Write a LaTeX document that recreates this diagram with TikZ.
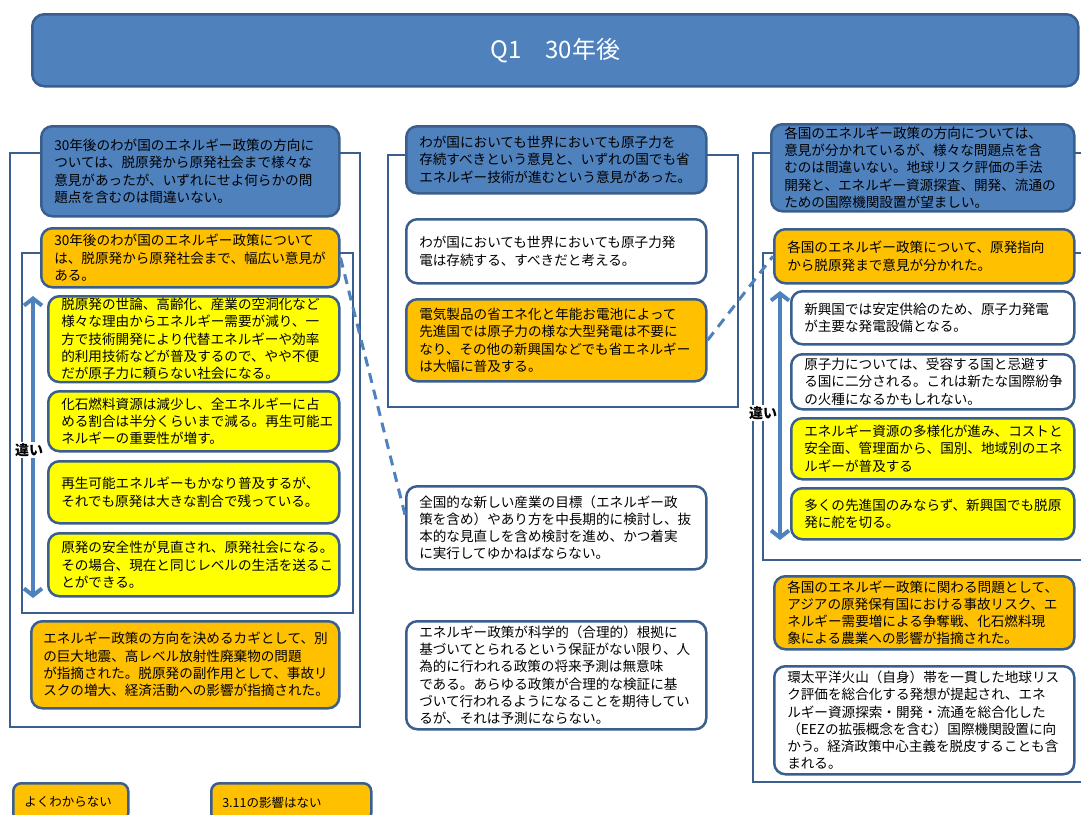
\documentclass[tikz,border=0pt]{standalone}
\usepackage{fontspec}
\setmainfont{Noto Sans CJK JP}
\usetikzlibrary{arrows.meta}
\definecolor{cblue}{HTML}{4F81BD}
\definecolor{cborder}{HTML}{3A5F8E}
\definecolor{corange}{HTML}{FFC000}
\definecolor{cyellow}{HTML}{FFFF00}
\begin{document}
\begin{tikzpicture}[x=1pt,y=-1pt,
  bx/.style={draw=cborder, line width=2.5pt, rounded corners=11pt, align=left,
    inner xsep=13pt, inner ysep=2pt, anchor=north west,
    font=\fontsize{13.6}{17.3}\selectfont, text=black},
  frame/.style={draw=cborder, line width=2.5pt},
  dashc/.style={draw=cblue, line width=3pt, dash pattern=on 10pt off 7pt},
  darrow/.style={draw=cblue, line width=4pt,
    {Straight Barb[length=7pt,width=18pt]}-{Straight Barb[length=7pt,width=18pt]}},
  lbl/.style={font=\fontsize{14}{16}\selectfont\bfseries, fill=white, inner sep=1pt},
  bluef/.style={fill=cblue},
  orangef/.style={fill=corange},
  yellowf/.style={fill=cyellow},
  whitef/.style={fill=white}
]
\useasboundingbox (0,0) rectangle (1081,814);
\clip (0,0) rectangle (1081,814);

% title
\node[bx, bluef, rounded corners=12pt, minimum width=1046pt, minimum height=72pt,
  align=center, text=white, font=\fontsize{24}{28}\selectfont] (T) at (31,13) {Q1　30年後};

% frames
\draw[frame] (10,153) rectangle (360,727);
\draw[frame] (22,253) rectangle (353,613);
\draw[frame] (388,155) rectangle (738,407);
\draw[frame] (753,153) rectangle (1100,782);
\draw[frame] (763,253) rectangle (1100,560);

% left column
\node[bx, bluef, minimum width=298pt, minimum height=90pt, text width=272pt] (L1) at (40,125)
 {30年後のわが国のエネルギー政策の方向に\\ついては、脱原発から原発社会まで様々な\\意見があったが、いずれにせよ何らかの問\\題点を含むのは間違いない。};
\node[bx, orangef, minimum width=298pt, minimum height=59pt, text width=272pt] (L2) at (40,227)
 {30年後のわが国のエネルギー政策について\\は、脱原発から原発社会まで、幅広い意見が\\ある。};
\node[bx, yellowf, minimum width=291pt, minimum height=85pt, text width=265pt] (Y1) at (47,295)
 {脱原発の世論、高齢化、産業の空洞化など\\様々な理由からエネルギー需要が減り、一\\方で技術開発により代替エネルギーや効率\\的利用技術などが普及するので、やや不便\\だが原子力に頼らない社会になる。};
\node[bx, yellowf, minimum width=291pt, minimum height=60pt, text width=265pt] (Y2) at (47,390)
 {化石燃料資源は減少し、全エネルギーに占\\める割合は半分くらいまで減る。再生可能エ\\ネルギーの重要性が増す。};
\node[bx, yellowf, minimum width=291pt, minimum height=62pt, text width=265pt] (Y3) at (47,460)
 {再生可能エネルギーもかなり普及するが、\\それでも原発は大きな割合で残っている。};
\node[bx, yellowf, minimum width=291pt, minimum height=63pt, text width=265pt] (Y4) at (47,532)
 {原発の安全性が見直され、原発社会になる。\\その場合、現在と同じレベルの生活を送るこ\\とができる。};
\node[bx, orangef, minimum width=308pt, minimum height=87pt, text width=284pt, inner xsep=12pt] (L3) at (30,620)
 {エネルギー政策の方向を決めるカギとして、別\\の巨大地震、高レベル放射性廃棄物の問題\\が指摘された。脱原発の副作用として、事故リ\\スクの増大、経済活動への影響が指摘された。};
\node[bx, orangef, rounded corners=8pt, minimum width=115pt, minimum height=38pt, text width=93pt, inner xsep=11pt,
  font=\fontsize{12.5}{15}\selectfont] (G1) at (12,782)
 {よくわからない};
\node[bx, orangef, rounded corners=8pt, minimum width=160pt, minimum height=38pt, text width=138pt, inner xsep=11pt,
  font=\fontsize{12.5}{15}\selectfont] (G2) at (210,782)
 {3.11の影響はない};

\coordinate (a1t) at (33,296);
\coordinate (a1b) at (33,598);
\draw[darrow] (a1t) -- (a1b);
\node[lbl] (D1) at (29,450) {違い};

% middle column
\node[bx, bluef, minimum width=300pt, minimum height=67pt, text width=274pt] (M1) at (405,125)
 {わが国においても世界においても原子力を\\存続すべきという意見と、いずれの国でも省\\エネルギー技術が進むという意見があった。};
\node[bx, whitef, minimum width=300pt, minimum height=64pt, text width=274pt] (M2) at (405,218)
 {わが国においても世界においても原子力発\\電は存続する、すべきだと考える。};
\node[bx, orangef, minimum width=300pt, minimum height=82pt, text width=274pt] (M3) at (405,298)
 {電気製品の省エネ化と年能お電池によって\\先進国では原子力の様な大型発電は不要に\\なり、その他の新興国などでも省エネルギー\\は大幅に普及する。};
\node[bx, whitef, minimum width=300pt, minimum height=83pt, text width=274pt] (M4) at (405,485)
 {全国的な新しい産業の目標（エネルギー政\\策を含め）やあり方を中長期的に検討し、抜\\本的な見直しを含め検討を進め、かつ着実\\に実行してゆかねばならない。};
\node[bx, whitef, minimum width=300pt, minimum height=108pt, text width=274pt] (M5) at (405,620)
 {エネルギー政策が科学的（合理的）根拠に\\基づいてとられるという保証がない限り、人\\為的に行われる政策の将来予測は無意味\\である。あらゆる政策が合理的な検証に基\\づいて行われるようになることを期待してい\\るが、それは予測にならない。};

% right column
\node[bx, bluef, minimum width=303pt, minimum height=87pt, text width=277pt] (R1) at (770,123)
 {各国のエネルギー政策の方向については、\\意見が分かれているが、様々な問題点を含\\むのは間違いない。地球リスク評価の手法\\開発と、エネルギー資源探査、開発、流通の\\ための国際機関設置が望ましい。};
\node[bx, orangef, minimum width=300pt, minimum height=54pt, text width=274pt] (R2) at (773,228)
 {各国のエネルギー政策について、原発指向\\から脱原発まで意見が分かれた。};
\node[bx, whitef, minimum width=283pt, minimum height=53pt, text width=257pt] (R3) at (790,290)
 {新興国では安定供給のため、原子力発電\\が主要な発電設備となる。};
\node[bx, whitef, minimum width=283pt, minimum height=55pt, text width=257pt] (R4) at (790,353)
 {原子力については、受容する国と忌避す\\る国に二分される。これは新たな国際紛争\\の火種になるかもしれない。};
\node[bx, yellowf, minimum width=283pt, minimum height=61pt, text width=257pt] (R5) at (790,417)
 {エネルギー資源の多様化が進み、コストと\\安全面、管理面から、国別、地域別のエネ\\ルギーが普及する};
\node[bx, yellowf, minimum width=283pt, minimum height=51pt, text width=257pt] (R6) at (790,487)
 {多くの先進国のみならず、新興国でも脱原\\発に舵を切る。};
\node[bx, orangef, minimum width=300pt, minimum height=73pt, text width=274pt] (R7) at (773,575)
 {各国のエネルギー政策に関わる問題として、\\アジアの原発保有国における事故リスク、エ\\ネルギー需要増による争奪戦、化石燃料現\\象による農業への影響が指摘された。};
\node[bx, whitef, minimum width=300pt, minimum height=108pt, text width=274pt] (R8) at (773,665)
 {環太平洋火山（自身）帯を一貫した地球リス\\ク評価を総合化する発想が提起され、エネ\\ルギー資源探索・開発・流通を総合化した\\（EEZの拡張概念を含む）国際機関設置に向\\かう。経済政策中心主義を脱皮することも含\\まれる。};

\coordinate (a2t) at (780,291);
\coordinate (a2b) at (780,540);
\draw[darrow] (a2t) -- (a2b);
\node[lbl] (D2) at (763,413) {違い};

% dashed connectors
\draw[dashc] (L2.east) -- ([yshift=13pt]M4.west);
\draw[dashc] (M3.east) -- (R2.west);
\end{tikzpicture}
\end{document}
